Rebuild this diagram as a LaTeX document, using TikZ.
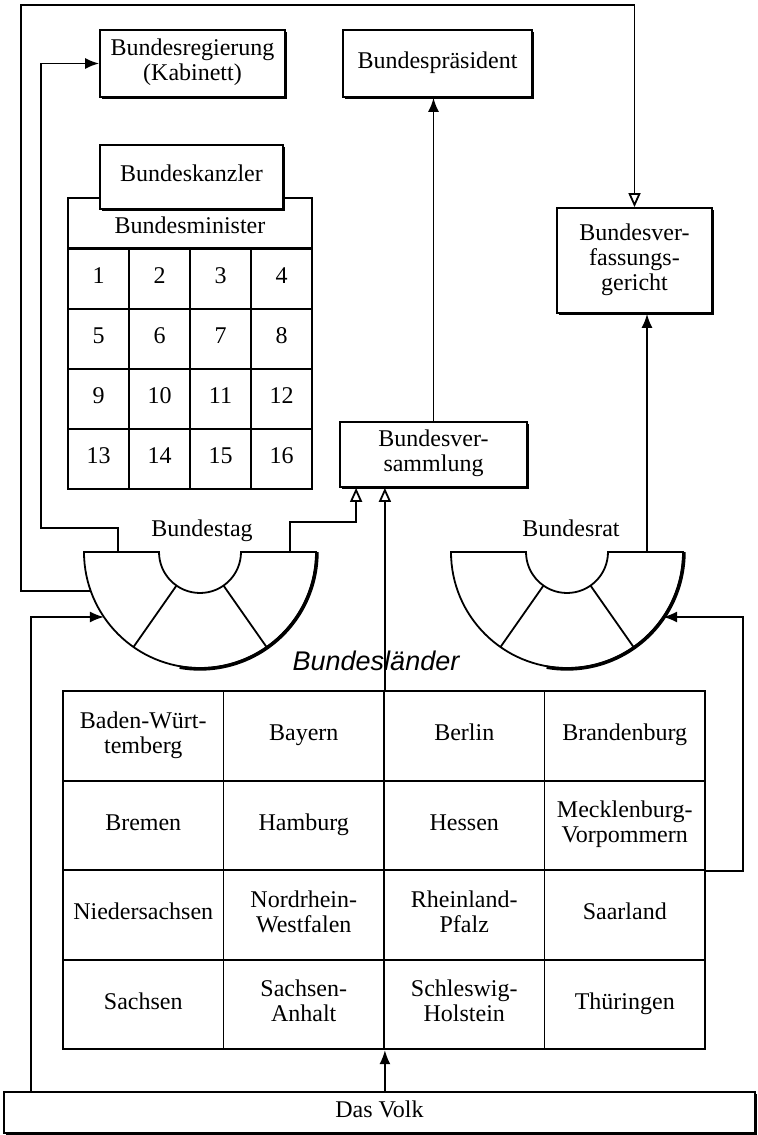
\documentclass[tikz,border=0pt]{standalone}
\usepackage{fontspec}
\setmainfont{Liberation Serif}
\newfontfamily\landfont{Liberation Sans}
\usetikzlibrary{
  calc,
  positioning,
  arrows.meta,
  shadows
}
\tikzset{>={Latex[length=7pt,width=5.5pt]}}

\begin{document}
\begin{tikzpicture}[x=0.5pt, y=0.5pt, line width=0.9pt,
  every node/.style={font=\fontsize{12}{12.5}\selectfont, execute at begin node=\strut, execute at end node=\strut},
  box/.style={rectangle, draw, fill=white, align=center, inner sep=0pt,
    drop shadow={shadow xshift=1pt, shadow yshift=-1pt, opacity=1, fill=black}},
  cell/.style={rectangle, draw, align=center, inner sep=0pt, minimum width=30.5pt, minimum height=30pt},
  land/.style={rectangle, draw, align=center, inner sep=0pt, minimum width=80.25pt, minimum height=44.75pt},
  openhead/.style={-{Triangle[open, length=7pt, width=6pt]}}]
				\useasboundingbox (0,0) rectangle (758,1135);

				% nodes
				\node[box, minimum width=92.5pt, minimum height=33.5pt] (regierung) at (192.5,1071.5) {Bundesregierung\\(Kabinett)};
				\node[box, minimum width=94.5pt, minimum height=33.5pt] (praesident) at (437.5,1071.5) {Bundespräsident};
				\node[box, minimum width=77.5pt, minimum height=52.5pt] (verfg) at (634.5,874.5) {Bundesver-\\fassungs-\\gericht};
				\node[box, minimum width=93.5pt, minimum height=32.5pt] (versammlung) at (433.5,680.5) {Bundesver-\\sammlung};

				% Bundesminister
				\node[cell, minimum width=122pt, minimum height=25pt, text height=14pt] (minister) at (190,912) {Bundesminister};
				\foreach \r in {0,...,3}
				  \foreach \c in {0,...,3} {
				    \pgfmathtruncatemacro{\n}{4*\r+\c+1}
				    \node[cell] (m\n) at (98.5+61*\c, 856-60*\r) {\n};
				  }
				\node[box, minimum width=91.5pt, minimum height=32pt] (kanzler) at (191.5,958) {Bundeskanzler};

				% Bundestag, Bundesrat
				\coordinate (tag) at (200,583);
				\coordinate (rat) at (567,583);
				\foreach \p in {tag, rat} {
				  \draw ($(\p)+(-116,0)$) arc[start angle=180, end angle=360, radius=58pt]
				    -- ($(\p)+(41,0)$) arc[start angle=0, end angle=-180, radius=20.5pt] -- cycle;
				  \draw ($(\p)+(-125:41)$) -- ($(\p)+(-125:116)$);
				  \draw ($(\p)+(-55:41)$) -- ($(\p)+(-55:116)$);
				  \draw[line width=1.7pt] ($(\p)+(0:117)$) arc[start angle=0, end angle=-100, radius=58.5pt];
				}
				\node (tagname) at (202,603) {Bundestag};
				\node (ratname) at (571,603) {Bundesrat};

				% Bundeslaender
				\node (laendername) at (376,471) {\landfont\itshape\fontsize{13.5}{14}\selectfont Bundesländer};
				\foreach \name [count=\i from 1] in {{Baden-Würt-\\temberg}, Bayern, Berlin, Brandenburg,
				    Bremen, Hamburg, Hessen, {Mecklenburg-\\Vorpommern},
				    Niedersachsen, {Nordrhein-\\Westfalen}, {Rheinland-\\Pfalz}, Saarland,
				    Sachsen, {Sachsen-\\Anhalt}, {Schleswig-\\Holstein}, Thüringen} {
				  \pgfmathtruncatemacro{\r}{(\i-1)/4}
				  \pgfmathtruncatemacro{\c}{\i-1-4*\r}
				  \node[land] (l\i) at (143.25+160.5*\c, 399-89.5*\r) {\name};
				}

				\node[box, drop shadow={opacity=0}, minimum width=375.5pt, minimum height=20.5pt] (volk) at (379.5,22.5) {Das Volk};

				% points on the rings
				\coordinate (tagW) at ($(tag)+(199.65:116)$);
				\coordinate (tagSW) at ($(tag)+(214.08:116)$);
				\coordinate (ratSE) at ($(rat)+(-34.08:116)$);
				\coordinate (tagNW) at ($(tag)+(-82,0)$);
				\coordinate (tagNE) at ($(tag)+(90,0)$);
				\coordinate (ratNE) at ($(rat)+(80,0)$);

				% connections
				\draw[openhead] (tagW) -| (21,1130) -| (verfg.north);
				\draw[->] (tagNW) |- (41,607) |- (regierung.west);
				\draw[openhead] (tagNE) -- ++(0,30) -| ($(versammlung.south west)+(17,0)$);
				\draw[->] (versammlung.north) -- (versammlung.north |- praesident.south);
				\draw[->] (ratNE) -- (ratNE |- verfg.south);
				\draw[->] ($(volk.north west)+(28,0)$) |- (tagSW);
				\draw[->] (volk.north -| l14.south east) -- (l14.south east);
				\draw[openhead] (l2.north east) -- (l2.north east |- versammlung.south);
				\draw[->] (l8.south east) -- ++(37,0) |- (ratSE);
			\end{tikzpicture}
\end{document}
